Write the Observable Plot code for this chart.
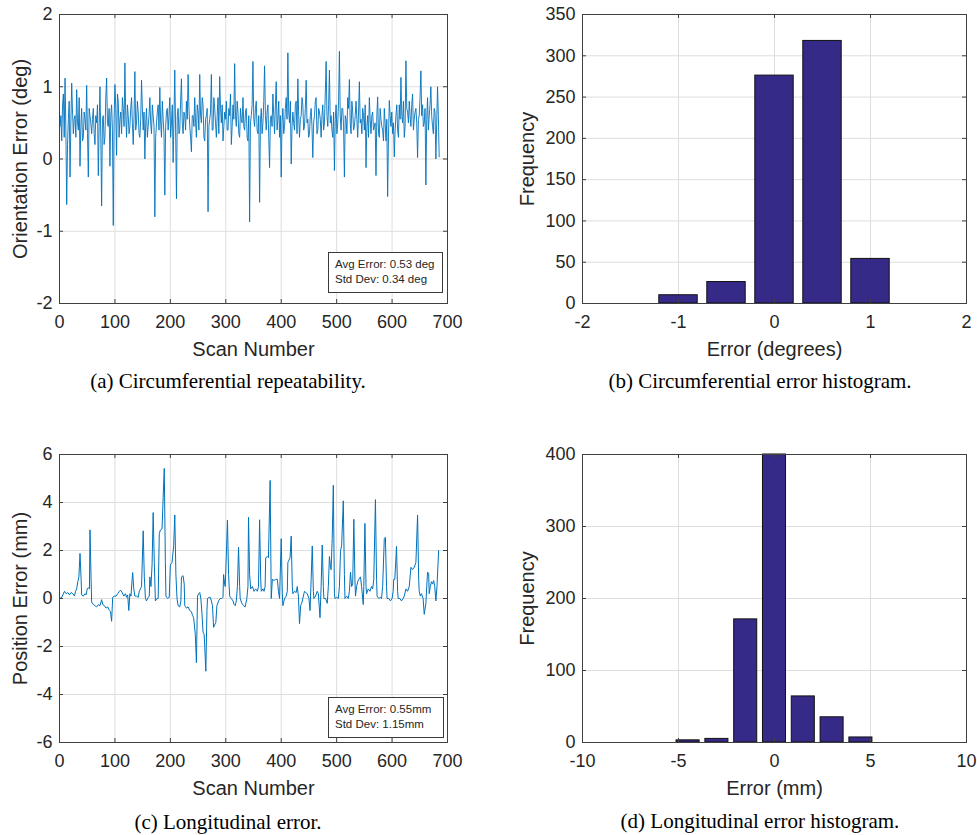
<!DOCTYPE html>
<html><head><meta charset="utf-8">
<script src="https://cdn.jsdelivr.net/npm/d3@7"></script>
<script src="https://cdn.jsdelivr.net/npm/@observablehq/plot@0.6"></script>
<style>
body{margin:0;background:#fff;}
#wrap{position:relative;width:977px;height:835px;overflow:hidden;font-family:"Liberation Sans",Arial,Helvetica,sans-serif;background:#fff;}
.panel{position:absolute;}
.cap{position:absolute;font-family:"Liberation Serif","Times New Roman",serif;font-size:21px;color:#000;text-align:center;white-space:nowrap;line-height:22px;}
.lg{position:absolute;border:1px solid #3a3a3a;background:#fff;font-size:11.5px;line-height:15px;padding:4px 0 0 6px;box-sizing:border-box;color:#262626;white-space:nowrap;}
</style></head><body><div id="wrap"></div><script>
// ---------- data ----------
const scanTicks = [0, 100, 200, 300, 400, 500, 600, 700];
const orientTicks = [-2, -1, 0, 1, 2];
const posTicks = [-6, -4, -2, 0, 2, 4, 6];
const degTicks = [-2, -1, 0, 1, 2];
const freqTicksB = [0, 50, 100, 150, 200, 250, 300, 350];
const mmTicks = [-10, -5, 0, 5, 10];
const freqTicksD = [0, 100, 200, 300, 400];

// (a) orientation error, read every 3 scans (scan 1 ... 685)
const orientScans = d3.range(1, 686, 3);
const orientErr = [
  0.45, 0.25, 0.9, 1.12, -0.63, 0.55, -0.25, 1.05, 0.35, 0.6,
  0.96, 0.4, -0.1, 0.7, 0.3, 0.55, 1.02, -0.25, 0.6, 0.35,
  0.7, 0.2, 0.5, -0.23, 1.0, -0.65, 0.6, 0.3, 1.12, 0.45,
  -0.1, 0.75, -0.92, 1.03, 0.05, 0.8, 0.55, 0.35, 0.7, 1.33,
  0.3, 0.6, 0.45, 0.85, 0.2, 1.21, 0.5, 0.65, 0.3, 1.09,
  0.4, 0.0, 0.7, 0.45, 0.85, 0.35, 0.6, -0.8, 0.5, 0.75,
  0.99, 0.3, 0.55, -0.5, 0.65, 0.4, 0.85, 0.5, -0.05, 1.23,
  -0.55, 0.7, 0.4, 1.11, 0.35, 0.6, 0.8, 1.17, 0.45, 0.1,
  0.6, 0.85, 0.3, 0.65, 1.17, 0.5, 0.75, 0.25, 0.6, -0.73,
  0.55, 1.17, 0.4, 0.7, 0.3, 0.85, 1.14, 0.5, 0.25, 0.65,
  0.8, 0.4, 0.6, 0.2, 0.75, 1.32, 0.45, 0.65, 0.3, 0.55,
  0.85, 0.4, 0.7, 0.25, -0.87, 0.6, 1.35, 0.45, 0.8, 0.35,
  -0.6, 0.7, 0.5, 1.29, 0.4, 0.75, -0.12, 0.6, 0.9, 0.35,
  1.07, 0.55, 0.3, -0.25, 0.7, 0.45, 0.85, 1.47, 0.5, -0.07,
  0.65, 0.4, 0.8, 1.11, 0.3, 0.6, 0.75, 0.45, 1.09, 0.55,
  0.35, 0.7, 0.02, 0.6, 0.85, 0.4, 0.65, 0.3, 0.75, 0.5,
  1.35, 0.45, 1.23, 0.6, 0.3, -0.16, 0.75, 0.5, 1.49, 0.4,
  0.7, -0.25, 0.55, 0.85, 1.1, 0.35, 0.65, 0.45, 0.8, 0.3,
  1.07, 0.55, 0.7, 0.4, -0.12, 0.6, 0.85, 0.35, 0.65, 0.45,
  -0.23, 0.86, 0.3, 0.55, 0.4, 0.7, 0.25, -0.52, 0.81, 0.45,
  0.35, 0.03, 0.6, 0.4, 0.75, 1.13, 0.5, 0.3, 1.36, 0.65,
  0.8, 0.45, 0.9, 0.55, 0.7, 0.02, 0.6, 1.22, 0.75, 0.5,
  -0.36, 0.85, 0.6, 1.0, 0.45, 0.7, 0.0, 1.0, 0.03
];
// (a) in-between readings (scan 2.5 ... 683.5)
const orientScansMid = d3.range(2.5, 685, 3);
const orientErrMid = [
  0.6, 0.75, 0.3, 0.4, 0.2, 0.8, 0.5, 0.65, 0.55, 0.3,
  0.5, 0.85, 0.45, 0.25, 0.65, 0.4, 0.35, 0.7, 0.5, 0.55,
  0.35, 0.6, 0.75, 0.45, 0.3, 0.55, 0.2, 0.85, 0.5, 0.7,
  0.6, 0.4, 0.55, 0.7, 0.9, 0.3, 0.65, 0.85, 0.45, 0.6,
  0.75, 0.35, 0.7, 0.5, 0.6, 0.4, 0.8, 0.35, 0.55, 0.7,
  0.65, 0.5, 0.3, 0.6, 0.5, 0.75, 0.45, 0.3, 0.65, 0.4,
  0.5, 0.8, 0.35, 0.45, 0.7, 0.6, 0.3, 0.75, 0.55, 0.4,
  0.6, 0.35, 0.8, 0.5, 0.65, 0.4, 0.55, 0.7, 0.3, 0.6,
  0.45, 0.5, 0.75, 0.4, 0.6, 0.85, 0.3, 0.55, 0.7, 0.45,
  0.65, 0.4, 0.85, 0.5, 0.6, 0.35, 0.7, 0.75, 0.45, 0.55,
  0.4, 0.7, 0.9, 0.45, 0.55, 0.6, 0.8, 0.35, 0.7, 0.5,
  0.45, 0.65, 0.3, 0.6, 0.5, 0.75, 0.55, 0.7, 0.4, 0.6,
  0.5, 0.35, 0.8, 0.6, 0.65, 0.3, 0.55, 0.45, 0.6, 0.75,
  0.4, 0.8, 0.6, 0.5, 0.35, 0.7, 0.55, 0.65, 0.8, 0.45,
  0.5, 0.75, 0.35, 0.6, 0.55, 0.85, 0.4, 0.7, 0.5, 0.3,
  0.6, 0.45, 0.5, 0.8, 0.35, 0.7, 0.55, 0.6, 0.4, 0.9,
  0.6, 0.75, 0.5, 0.4, 0.65, 0.55, 0.35, 0.8, 0.6, 0.7,
  0.45, 0.6, 0.35, 0.7, 0.5, 0.8, 0.4, 0.6, 0.55, 0.65,
  0.5, 0.35, 0.6, 0.75, 0.45, 0.3, 0.55, 0.6, 0.4, 0.5,
  0.6, 0.35, 0.7, 0.45, 0.25, 0.5, 0.55, 0.3, 0.6, 0.65,
  0.5, 0.4, 0.75, 0.3, 0.55, 0.6, 0.8, 0.45, 0.7, 0.5,
  0.6, 0.75, 0.4, 0.65, 0.5, 0.55, 0.85, 0.6, 0.45, 0.7,
  0.55, 0.4, 0.75, 0.6, 0.35, 0.65, 0.5, 0.6
];

// (c) longitudinal position error: [scan, mm]
const positionErr = [
  [0,0.05],[3,0.0],[6,0.15],[9,0.3],[12,0.2],[15,0.25],[18,0.15],[21,0.25],[24,0.2],[27,0.1],
  [29,0.3],[31,0.4],[33,0.7],[35,0.9],[37,1.88],[39,0.8],[40,0.15],[43,0.1],[46,0.2],[48,0.15],
  [50,0.4],[52,0.45],[54,0.4],[55,2.86],[57,0.8],[58,-0.15],[61,-0.25],[64,-0.3],[67,-0.35],[70,-0.25],
  [73,-0.3],[76,-0.05],[78,-0.25],[81,-0.3],[84,-0.4],[87,-0.35],[90,-0.5],[92,-0.55],[94,-0.95],[96,0.05],
  [99,0.1],[102,0.1],[105,0.2],[108,0.3],[110,0.35],[113,0.25],[116,0.1],[119,0.2],[121,0.05],[123,0.15],
  [125,-0.5],[127,0.2],[129,0.1],[131,0.8],[132,1.08],[134,0.4],[136,0.1],[139,0.1],[142,0.05],[144,0.3],
  [146,0.4],[148,0.5],[151,2.82],[153,0.9],[155,0.0],[157,-0.1],[160,0.05],[162,0.1],[163,0.9],[165,0.5],
  [167,1.4],[169,3.58],[171,1.5],[173,-0.1],[176,0.0],[178,0.0],[180,2.7],[182,2.85],[185,2.9],[187,4.2],
  [189,5.42],[191,1.5],[192,0.1],[195,0.0],[198,0.05],[200,1.4],[203,1.5],[206,2.2],[208,3.48],[210,1.0],
  [212,0.0],[214,-0.3],[217,-0.35],[219,-0.1],[220,0.9],[223,0.95],[225,0.6],[226,-0.3],[229,-0.4],[232,-0.35],
  [235,-0.5],[238,-0.55],[240,-0.7],[242,-0.8],[245,-1.5],[247,-2.67],[249,0.1],[251,0.2],[253,0.25],[255,0.0],
  [257,-0.6],[259,-1.4],[261,-1.5],[262,-2.0],[264,-3.03],[266,-0.5],[267,0.0],[270,0.05],[272,0.05],[274,-0.1],
  [276,-0.3],[278,-1.2],[280,-1.1],[282,-1.0],[284,-0.3],[287,-0.1],[290,0.0],[293,0.0],[295,0.05],[296,1.0],
  [298,0.6],[299,0.5],[301,1.8],[303,3.27],[305,1.0],[307,0.1],[310,0.0],[313,-0.1],[315,-0.25],[317,-0.3],
  [319,-0.1],[321,0.5],[323,2.13],[325,0.5],[326,0.0],[329,-0.2],[332,-0.3],[335,-0.35],[338,0.0],[340,0.5],
  [341,3.38],[343,1.0],[345,0.4],[348,0.5],[351,0.3],[354,0.4],[357,0.3],[359,0.5],[361,3.28],[363,0.8],
  [364,0.3],[367,0.4],[369,0.3],[371,0.5],[372,1.7],[375,1.75],[377,1.7],[380,4.92],[382,0.0],[384,0.8],
  [387,0.75],[390,0.8],[393,0.8],[395,0.3],[397,0.0],[400,2.49],[402,0.2],[403,-0.3],[406,0.0],[409,0.1],
  [411,0.3],[412,1.5],[414,1.6],[416,1.7],[418,2.6],[420,0.5],[421,0.2],[424,0.3],[427,0.25],[429,0.5],
  [431,0.1],[433,-1.05],[435,-0.3],[437,-0.2],[440,0.1],[442,0.3],[444,0.25],[447,0.2],[450,0.0],[452,-0.5],
  [454,0.8],[456,2.19],[458,0.3],[459,0.0],[462,0.1],[465,0.3],[467,0.2],[470,-0.8],[472,0.5],[474,2.23],
  [476,0.5],[477,0.0],[480,0.0],[483,-0.2],[485,0.5],[487,1.75],[489,1.3],[490,1.2],[492,2.5],[494,4.72],
  [496,0.2],[497,0.0],[500,0.05],[503,0.0],[505,0.5],[507,2.0],[509,2.2],[512,4.07],[514,1.0],[515,0.0],
  [518,0.1],[521,0.0],[523,0.3],[525,1.1],[527,0.5],[529,0.6],[531,3.3],[533,0.8],[534,0.1],[536,0.5],
  [538,0.7],[540,0.8],[543,0.9],[545,0.5],[548,-0.25],[549,0.5],[551,3.13],[553,0.5],[554,0.2],[557,0.4],
  [560,0.3],[563,0.5],[565,0.4],[567,0.8],[570,4.12],[572,0.8],[573,0.1],[576,0.0],[579,0.05],[581,0.0],
  [583,0.5],[586,2.5],[588,2.55],[590,0.5],[591,0.0],[594,0.0],[597,-0.1],[600,0.0],[602,0.3],[603,0.8],
  [605,0.8],[608,2.17],[610,0.3],[611,0.0],[614,0.0],[617,-0.1],[620,0.0],[622,0.1],[625,0.4],[628,0.3],
  [631,0.5],[634,1.3],[637,1.2],[640,1.3],[643,1.5],[646,3.48],[648,0.8],[649,0.3],[651,0.1],[653,0.2],
  [656,0.0],[658,-0.66],[661,-0.2],[664,1.1],[666,1.05],[667,0.2],[669,0.5],[671,0.7],[673,0.6],[675,0.75],
  [677,0.5],[679,-0.1],[681,0.5],[684,2.0]
];

// (b) circumferential error histogram
const circBins = [-1, -0.5, 0, 0.5, 1];
const circFreq = [10, 26, 276, 318, 54];
const circBarWidth = 0.4;
// (d) longitudinal error histogram
const longBins = [-4.5, -3, -1.5, 0, 1.5, 3, 4.5];
const longFreq = [3, 5, 171, 400, 64, 35, 7];
const longBarWidth = 1.2;

// ---------- drawing ----------
const orientSeries = orientScans.map((s, i) => ({scan: s, err: orientErr[i]}))
  .concat(orientScansMid.map((s, i) => ({scan: s, err: orientErrMid[i]})))
  .sort((a, b) => a.scan - b.scan);

const fmt = d => String(d);
const axisColor = "#404040";
const textColor = "#262626";
const lineColor = "#0072bd";
const barColor = "#352a87";
const wrap = document.getElementById("wrap");

function panel({left, top, width, height, mL, mR, mT, mB, xDomain, yDomain, xTicks, yTicks, xLabel, yLabel, yLabelDx, marks}) {
  const fw = width - mL - mR, fh = height - mT - mB, tl = 4;
  const chart = Plot.plot({
    width, height, marginLeft: mL, marginRight: mR, marginTop: mT, marginBottom: mB,
    style: {fontFamily: '"Liberation Sans", Arial, Helvetica, sans-serif', fontSize: "18px", color: textColor, background: "#fff", overflow: "visible"},
    x: {domain: xDomain},
    y: {domain: yDomain},
    marks: [
      Plot.gridX(xTicks, {stroke: "#dedede", strokeOpacity: 1}),
      Plot.gridY(yTicks, {stroke: "#dedede", strokeOpacity: 1}),
      ...marks,
      Plot.tickX(xTicks, {x: d => d, insetTop: fh - tl, stroke: axisColor}),
      Plot.tickX(xTicks, {x: d => d, insetBottom: fh - tl, stroke: axisColor}),
      Plot.tickY(yTicks, {y: d => d, insetLeft: fw - tl, stroke: axisColor}),
      Plot.tickY(yTicks, {y: d => d, insetRight: fw - tl, stroke: axisColor}),
      Plot.frame({stroke: axisColor}),
      Plot.axisX(xTicks, {tickSize: 0, tickPadding: 12, tickFormat: fmt, label: null, fontSize: 18, fill: textColor}),
      Plot.axisY(yTicks, {tickSize: 0, tickPadding: 7, tickFormat: fmt, label: null, fontSize: 18, fill: textColor}),
      Plot.text([xLabel], {frameAnchor: "bottom", dy: 46, fontSize: 20, textAnchor: "middle", lineAnchor: "middle", fill: textColor}),
      Plot.text([yLabel], {frameAnchor: "left", dx: yLabelDx, rotate: -90, fontSize: 20, textAnchor: "middle", lineAnchor: "middle", fill: textColor})
    ]
  });
  const holder = document.createElement("div");
  holder.className = "panel";
  holder.style.left = left + "px";
  holder.style.top = top + "px";
  holder.appendChild(chart);
  wrap.appendChild(holder);
}

function addCaption(text, cx, cy) {
  const d = document.createElement("div");
  d.className = "cap";
  d.textContent = text;
  d.style.left = (cx - 250) + "px";
  d.style.width = "500px";
  d.style.top = (cy - 11) + "px";
  wrap.appendChild(d);
}
function addLegend(lines, x, y, w, h) {
  const d = document.createElement("div");
  d.className = "lg";
  d.style.left = x + "px"; d.style.top = y + "px";
  d.style.width = w + "px"; d.style.height = h + "px";
  d.innerHTML = lines.map(s => `<div>${s}</div>`).join("");
  wrap.appendChild(d);
}

// (a)
panel({left: 0, top: 0, width: 490, height: 365, mL: 59, mR: 43, mT: 14, mB: 62,
  xDomain: [0, 700], yDomain: [-2, 2], xTicks: scanTicks, yTicks: orientTicks,
  xLabel: "Scan Number", yLabel: "Orientation Error (deg)", yLabelDx: -39,
  marks: [Plot.line(orientSeries, {x: "scan", y: "err", stroke: lineColor, strokeWidth: 0.9})]});
// (b)
panel({left: 490, top: 0, width: 487, height: 365, mL: 92, mR: 11, mT: 14, mB: 62,
  xDomain: [-2, 2], yDomain: [0, 350], xTicks: degTicks, yTicks: freqTicksB,
  xLabel: "Error (degrees)", yLabel: "Frequency", yLabelDx: -55,
  marks: [Plot.rect(circBins, {x1: d => d - circBarWidth / 2, x2: d => d + circBarWidth / 2, y1: 0, y2: (d, i) => circFreq[i], fill: barColor, stroke: "#111", strokeWidth: 1})]});
// (c)
panel({left: 0, top: 440, width: 490, height: 365, mL: 59, mR: 43, mT: 14, mB: 63,
  xDomain: [0, 700], yDomain: [-6, 6], xTicks: scanTicks, yTicks: posTicks,
  xLabel: "Scan Number", yLabel: "Position Error (mm)", yLabelDx: -39,
  marks: [Plot.line(positionErr, {x: d => d[0], y: d => d[1], stroke: lineColor, strokeWidth: 1})]});
// (d)
panel({left: 490, top: 440, width: 487, height: 365, mL: 92, mR: 11, mT: 14, mB: 63,
  xDomain: [-10, 10], yDomain: [0, 400], xTicks: mmTicks, yTicks: freqTicksD,
  xLabel: "Error (mm)", yLabel: "Frequency", yLabelDx: -55,
  marks: [Plot.rect(longBins, {x1: d => d - longBarWidth / 2, x2: d => d + longBarWidth / 2, y1: 0, y2: (d, i) => longFreq[i], fill: barColor, stroke: "#111", strokeWidth: 1})]});

addLegend(["Avg Error: 0.53 deg", "Std Dev: 0.34 deg"], 328, 252, 115, 41);
addLegend(["Avg Error: 0.55mm", "Std Dev: 1.15mm"], 328, 697, 116, 41);

addCaption("(a) Circumferential repeatability.", 228, 381);
addCaption("(b) Circumferential error histogram.", 760, 381);
addCaption("(c) Longitudinal error.", 228, 822);
addCaption("(d) Longitudinal error histogram.", 760, 821);
</script></body></html>
